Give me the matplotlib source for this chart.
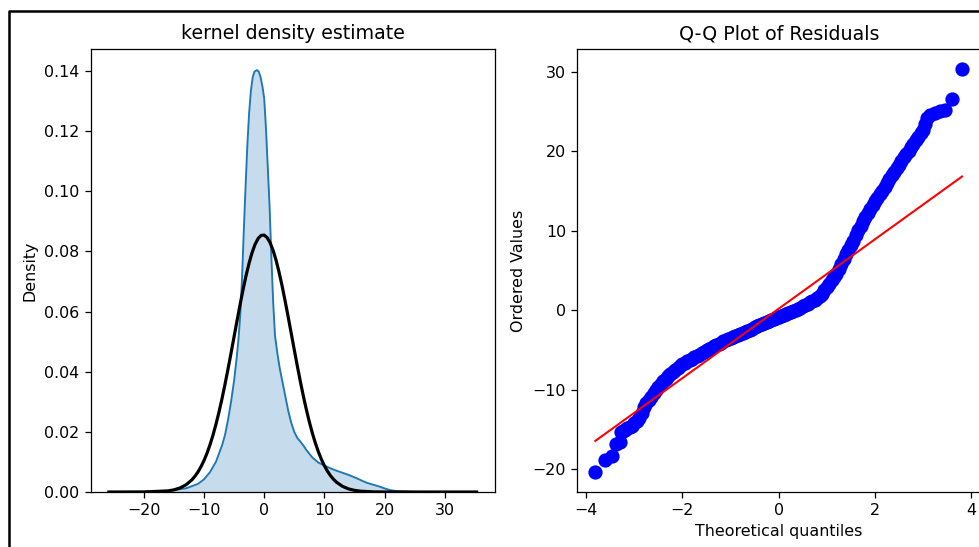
import matplotlib
matplotlib.use("Agg")
import matplotlib.pyplot as plt
from matplotlib.lines import Line2D

# ---------------- data ----------------
# kernel density estimate (blue, filled)
kde_x = [-25.8, -20, -16, -13, -11, -10, -9, -8, -7, -6.5, -6, -5.5, -5, -4.6,
         -4.3, -4.0, -3.7, -3.4, -3.1, -2.8, -2.5, -2.2, -1.9, -1.6, -1.2, -0.9,
         -0.6, -0.3, 0.0, 0.3, 0.6, 0.9, 1.2, 1.5, 1.8, 2.2, 2.6, 3.0, 3.5, 4.0,
         4.5, 5.0, 5.5, 6.0, 6.5, 7, 8, 9, 10, 11, 12, 13, 14, 15, 16, 17, 18,
         19, 20, 21, 22, 25, 30, 35.3]
kde_y = [0.0, 0.00008, 0.0004, 0.0012, 0.0027, 0.0042, 0.0066, 0.0101, 0.0155, 0.019,
         0.024, 0.030, 0.037, 0.044, 0.050, 0.058, 0.070, 0.086, 0.101, 0.115,
         0.126, 0.1335, 0.138, 0.1398, 0.1403, 0.1398, 0.138, 0.135, 0.131, 0.121,
         0.108, 0.095, 0.078, 0.063, 0.052, 0.046, 0.041, 0.037, 0.032, 0.027,
         0.023, 0.020, 0.018, 0.0168, 0.0155, 0.014, 0.0115, 0.0098, 0.0088,
         0.0079, 0.0071, 0.0064, 0.0057, 0.0049, 0.0040, 0.0031, 0.0025, 0.0019,
         0.0012, 0.0006, 0.0003, 0.00003, 0.00001, 0.0]

# fitted normal curve (black)
norm_x = [-25.8, -20, -16, -15, -14, -13, -12, -11.5, -11, -10.5, -10, -9.5, -9,
          -8.5, -8, -7.5, -7, -6.5, -6, -5.5, -5, -4.5, -4, -3.5, -3, -2.5, -2,
          -1.5, -1, -0.5, 0, 0.5, 1, 1.5, 2, 2.5, 3, 3.5, 4, 4.5, 5, 5.5, 6, 6.5,
          7, 7.5, 8, 8.5, 9, 9.5, 10, 10.5, 11, 11.5, 12, 13, 14, 15, 16, 18, 20,
          25, 35.3]
norm_y = [0.0, 0.00002, 0.00036, 0.00071, 0.00133, 0.00237, 0.00406, 0.00523,
          0.00666, 0.0084, 0.01045, 0.01288, 0.0157, 0.01894, 0.02259, 0.02664,
          0.03109, 0.03588, 0.04096, 0.04624, 0.05164, 0.05705, 0.06234, 0.06737,
          0.07202, 0.07615, 0.07965, 0.0824, 0.08431, 0.08533, 0.08543, 0.08459,
          0.08285, 0.08026, 0.0769, 0.0729, 0.06834, 0.06336, 0.05812, 0.05273,
          0.04732, 0.042, 0.03687, 0.03201, 0.0275, 0.02337, 0.01963, 0.01632,
          0.01342, 0.01091, 0.00877, 0.00699, 0.00549, 0.00427, 0.00329, 0.00189,
          0.00104, 0.00055, 0.00027, 0.00006, 0.00001, 0.0, 0.0]

# Q-Q plot: theoretical quantiles and ordered values
qq_theoretical = [-3.81, -3.60, -3.46, -3.38, -3.30, -3.27, -3.23,
                  -3.20, -3.15, -3.10, -3.05, -3.00, -2.95, -2.90, -2.85, -2.80,
                  -2.75, -2.70, -2.65, -2.60, -2.55, -2.50, -2.45, -2.40, -2.35,
                  -2.30, -2.25, -2.20, -2.15, -2.10, -2.05, -2.00, -1.95, -1.90,
                  -1.85, -1.80, -1.75, -1.70, -1.65, -1.60, -1.55, -1.50, -1.45,
                  -1.40, -1.35, -1.30, -1.25, -1.20, -1.15, -1.10, -1.05, -1.00,
                  -0.95, -0.90, -0.85, -0.80, -0.75, -0.70, -0.65, -0.60, -0.55,
                  -0.50, -0.45, -0.40, -0.35, -0.30, -0.25, -0.20, -0.15, -0.10,
                  -0.05, 0.00, 0.05, 0.10, 0.15, 0.20, 0.25, 0.30, 0.35, 0.40,
                  0.45, 0.50, 0.55, 0.60, 0.65, 0.70, 0.75, 0.80, 0.85, 0.90,
                  0.95, 1.00, 1.05, 1.10, 1.15, 1.20, 1.25, 1.30, 1.35, 1.40,
                  1.45, 1.50, 1.55, 1.60, 1.65, 1.70, 1.75, 1.80, 1.85, 1.90,
                  1.95, 2.00, 2.05, 2.10, 2.15, 2.20, 2.25, 2.30, 2.35, 2.40,
                  2.45, 2.50, 2.55, 2.60, 2.65, 2.70, 2.75, 2.80, 2.85, 2.90,
                  2.95, 3.00, 3.05, 3.08, 3.15, 3.25, 3.35, 3.45, 3.60, 3.81]
qq_ordered = [-20.3, -18.85, -18.35, -16.85, -16.6, -15.3, -15.15,
              -15.0, -14.85, -14.7, -14.5, -14.2, -13.9, -13.5, -12.9, -12.2,
              -11.7, -11.25, -10.85, -10.45, -10.05, -9.65, -9.25, -8.9, -8.6,
              -8.3, -8.0, -7.72, -7.45, -7.2, -6.98, -6.78, -6.6, -6.43,
              -6.26, -6.1, -5.93, -5.75, -5.58, -5.4, -5.22, -5.05, -4.88,
              -4.7, -4.52, -4.35, -4.18, -4.05, -3.92, -3.78, -3.65, -3.52,
              -3.38, -3.25, -3.12, -2.98, -2.85, -2.72, -2.58, -2.44, -2.3,
              -2.16, -2.02, -1.88, -1.74, -1.6, -1.46, -1.33, -1.2, -1.06,
              -0.93, -0.8, -0.68, -0.55, -0.43, -0.3, -0.18, -0.05, 0.08, 0.2,
              0.32, 0.5, 0.66, 0.83, 1.0, 1.17, 1.35, 1.55, 1.8, 2.1,
              2.5, 2.95, 3.35, 3.75, 4.15, 4.6, 5.2, 5.85, 6.5, 7.05,
              7.6, 8.15, 8.75, 9.4, 10.05, 10.65, 11.2, 11.7, 12.2, 12.7,
              13.2, 13.7, 14.15, 14.6, 15.05, 15.5, 16.0, 16.45, 16.95, 17.4,
              17.85, 18.3, 18.75, 19.2, 19.65, 20.05, 20.5, 20.95, 21.4, 21.8,
              22.25, 22.7, 23.4, 24.2, 24.6, 24.85, 25.0, 25.2, 26.5, 30.3]

# least-squares reference line (red), end points
fit_line_x = [-3.81, 3.81]
fit_line_y = [-16.41, 16.81]

# ---------------- figure ----------------
W, H, DPI = 979, 547, 114
fig = plt.figure(figsize=(W / DPI, H / DPI), dpi=DPI)

# screenshot frame
fig.add_artist(Line2D([9 / W, 9 / W, 1.0], [0.0, 1 - 11 / H, 1 - 11 / H],
                      transform=fig.transFigure, color="black", lw=1.6))

bottom = (H - 492) / H
height = (492 - 49) / H

ax1 = fig.add_axes([90.5 / W, bottom, (495 - 90.5) / W, height])
ax1.fill_between(kde_x, kde_y, 0, color="#1f77b4", alpha=0.25, lw=0)
ax1.plot(kde_x, kde_y, color="#1f77b4", lw=1.2)
ax1.plot(norm_x, norm_y, color="black", lw=2.0)
ax1.set_ylim(bottom=0)
ax1.set_ylabel("Density")
ax1.set_title("kernel density estimate")

ax2 = fig.add_axes([577 / W, bottom, (980.4 - 577) / W, height])
ax2.plot(qq_theoretical, qq_ordered, "bo", markersize=8)
ax2.plot(fit_line_x, fit_line_y, "r-", lw=1.3)
ax2.set_xlabel("Theoretical quantiles")
ax2.set_ylabel("Ordered Values")
ax2.set_title("Q-Q Plot of Residuals")

fig.savefig("out.png", dpi=DPI)
